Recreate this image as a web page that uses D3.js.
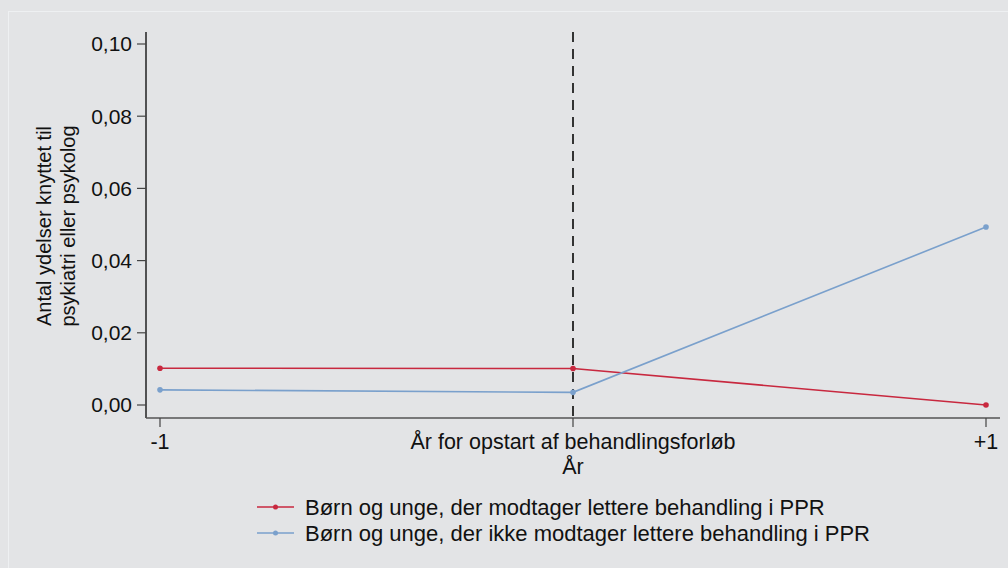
<!DOCTYPE html>
<html>
<head>
<meta charset="utf-8">
<script src="https://cdn.jsdelivr.net/npm/d3@7"></script>
<style>
  body { margin: 0; background: #e3e4e6; }
  svg { display: block; font-family: "Liberation Sans", Arial, sans-serif; }
</style>
</head>
<body>
<div id="chart"></div>
<script>
// Data
const periods = [-1, 0, 1];
const periodLabels = ["-1", "År for opstart af behandlingsforløb", "+1"];
const redValues = [0.0102, 0.0101, 0.0];
const blueValues = [0.0042, 0.0035, 0.0493];
const yTicks = [0, 0.02, 0.04, 0.06, 0.08, 0.10];
const seriesNames = [
    "Børn og unge, der modtager lettere behandling i PPR",
    "Børn og unge, der ikke modtager lettere behandling i PPR"
];
const seriesColors = ["#c8283f", "#7aa0cc"];

const width = 1008, height = 568;
const svg = d3.select("#chart").append("svg")
    .attr("width", width)
    .attr("height", height);

// faint panel edge
svg.append("line").attr("x1", 8).attr("x2", width).attr("y1", 11.5).attr("y2", 11.5)
    .attr("stroke", "#eef0f2").attr("stroke-width", 1);
svg.append("line").attr("x1", 8.5).attr("x2", 8.5).attr("y1", 11).attr("y2", height)
    .attr("stroke", "#eef0f2").attr("stroke-width", 1);

const x = d3.scaleLinear().domain([-1, 1]).range([160, 986]);
const y = d3.scaleLinear().domain([0, 0.10]).range([405, 44]);

const axisLeftX = 146, axisBottomY = 418;
const fmt = d => d3.format(".2f")(d).replace(".", ",");

// y axis
svg.append("line")
    .attr("x1", axisLeftX).attr("x2", axisLeftX)
    .attr("y1", 32).attr("y2", axisBottomY)
    .attr("stroke", "#222").attr("stroke-width", 1.5);
const yg = svg.append("g");
yg.selectAll("line").data(yTicks).join("line")
    .attr("x1", axisLeftX - 9).attr("x2", axisLeftX)
    .attr("y1", d => y(d)).attr("y2", d => y(d))
    .attr("stroke", "#444").attr("stroke-width", 1.2);
yg.selectAll("text").data(yTicks).join("text")
    .attr("x", axisLeftX - 14).attr("y", d => y(d))
    .attr("dy", "0.35em")
    .attr("text-anchor", "end")
    .attr("font-size", 21)
    .attr("fill", "#111")
    .text(fmt);

// y title
const yt = svg.append("text")
    .attr("transform", "translate(51,226) rotate(-90)")
    .attr("text-anchor", "middle")
    .attr("font-size", 20)
    .attr("fill", "#111");
yt.append("tspan").attr("x", 0).attr("dy", 0).text("Antal ydelser knyttet til");
yt.append("tspan").attr("x", 0).attr("dy", 24).text("psykiatri eller psykolog");

// x axis
svg.append("line")
    .attr("x1", axisLeftX).attr("x2", 1000)
    .attr("y1", axisBottomY).attr("y2", axisBottomY)
    .attr("stroke", "#555").attr("stroke-width", 1.5);
const xg = svg.append("g");
xg.selectAll("line").data(periods).join("line")
    .attr("x1", d => x(d)).attr("x2", d => x(d))
    .attr("y1", axisBottomY).attr("y2", axisBottomY + 9)
    .attr("stroke", "#444").attr("stroke-width", 1.2);
xg.selectAll("text").data(periods).join("text")
    .attr("x", d => x(d)).attr("y", 449)
    .attr("text-anchor", "middle")
    .attr("font-size", 21.5)
    .attr("fill", "#111")
    .text((d, i) => periodLabels[i]);
svg.append("text")
    .attr("x", x(0)).attr("y", 474)
    .attr("text-anchor", "middle")
    .attr("font-size", 21.5)
    .attr("fill", "#111")
    .text("År");

// vertical reference line
svg.append("line")
    .attr("x1", x(0)).attr("x2", x(0))
    .attr("y1", 32).attr("y2", axisBottomY)
    .attr("stroke", "#333").attr("stroke-width", 2)
    .attr("stroke-dasharray", "10,7");

// series
const series = [redValues, blueValues];
const line = d3.line().x((d, i) => x(periods[i])).y(d => y(d));
series.forEach((vals, s) => {
    svg.append("path")
        .datum(vals)
        .attr("d", line)
        .attr("fill", "none")
        .attr("stroke", seriesColors[s])
        .attr("stroke-width", 1.6);
    svg.selectAll(null).data(vals).join("circle")
        .attr("cx", (d, i) => x(periods[i]))
        .attr("cy", d => y(d))
        .attr("r", 2.8)
        .attr("fill", seriesColors[s]);
});

// legend
const lg = svg.append("g");
seriesNames.forEach((name, s) => {
    const ly = 507 + s * 26;
    lg.append("line")
        .attr("x1", 257).attr("x2", 294)
        .attr("y1", ly).attr("y2", ly)
        .attr("stroke", seriesColors[s]).attr("stroke-width", 1.6);
    lg.append("circle")
        .attr("cx", 275.5).attr("cy", ly).attr("r", 2.5)
        .attr("fill", seriesColors[s]);
    lg.append("text")
        .attr("x", 305).attr("y", ly)
        .attr("dy", "0.35em")
        .attr("font-size", 22)
        .attr("fill", "#111")
        .text(name);
});
</script>
</body>
</html>
